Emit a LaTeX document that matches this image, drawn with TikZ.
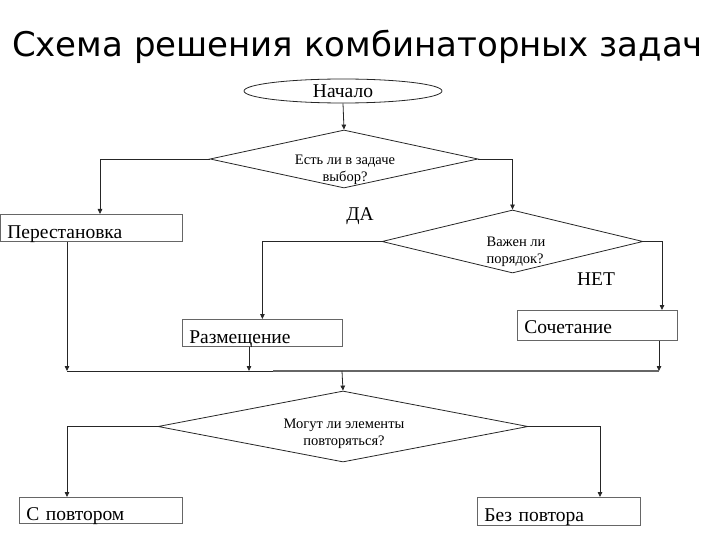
\documentclass[tikz,border=0pt]{standalone}
\usepackage{fontspec}
\setmainfont{Liberation Serif}
\newfontfamily\titlefont{DejaVu Sans}
\usetikzlibrary{arrows.meta,shapes.geometric,positioning,calc}

\tikzset{
  arr/.style={draw=black!85, line width=0.8pt, -{Triangle[length=5pt,width=4.5pt]}},
  link/.style={draw=black!85, line width=0.8pt},
  box/.style={draw=black!60, line width=0.8pt, rectangle, anchor=north west,
    minimum height=27pt, inner xsep=7pt, inner ysep=0pt, align=left,
    text height=22pt, text depth=1pt, font=\fontsize{19.5}{22}\selectfont},
  decision/.style={draw=black!85, line width=0.8pt, diamond, inner sep=0pt},
  qtext/.style={align=center, font=\fontsize{14.5}{17}\selectfont},
  answer/.style={font=\fontsize{19.5}{22}\selectfont}
}

\begin{document}
\begin{tikzpicture}[x=1pt, y=-1pt]
\useasboundingbox (0,0) rectangle (720,540);
% Title
\node[anchor=base, font=\titlefont\fontsize{34}{38}\selectfont] (title) at (357.5,57) {Схема решения комбинаторных задач};
% Start and questions
\node[draw=black!85, line width=0.8pt, ellipse, minimum width=198pt, minimum height=24pt, inner sep=0pt,
  font=\fontsize{19.5}{22}\selectfont] (start) at (343,91) {Начало};
\node[decision, minimum width=268pt, minimum height=58pt] (q1) at (344,159) {};
\node[qtext] (q1text) at (345,170) {Есть ли в задаче\\выбор?};
\node[decision, minimum width=261pt, minimum height=63pt] (q2) at (512.5,241.5) {};
\node[qtext, align=left] (q2text) at (516,252) {Важен ли\\порядок?};
\node[decision, minimum width=370pt, minimum height=71pt] (q3) at (343,426.5) {};
\node[qtext] (q3text) at (344,434) {Могут ли элементы\\повторяться?};
% Result boxes
\node[box, text width=168pt] (perm) at (0,214) {Перестановка};
\node[box, text width=146pt] (razm) at (182,319) {Размещение};
\node[box, text width=146pt, minimum height=30pt, text height=17pt] (soch) at (517,310) {Сочетание};
\node[box, text width=149pt, minimum height=26pt] (rep) at (19,497) {С повтором};
\node[box, text width=149pt, minimum height=28pt, text height=21pt] (norep) at (477,497) {Без повтора};
% Answers
\node[answer] (yes) at (360,216) {ДА};
\node[answer] (no) at (596,279) {НЕТ};
% Helper points
\coordinate (permIn) at (100,0);
\coordinate (sochIn) at (662,0);
\coordinate (norepIn) at (600,0);
\coordinate (joinL) at (67,371);
\coordinate (joinM) at (249,371);
\coordinate (joinK) at (273,371);
\coordinate (join) at (342,371);
\coordinate (joinR) at (659,371);
% Connectors
\draw[arr] (start.south) -- (q1.north);
\draw[arr] (q1.west) -| (permIn |- perm.north);
\draw[arr] (q1.east) -| (q2.north);
\draw[arr] (q2.west) -| (razm.north);
\draw[arr] (q2.east) -| (sochIn |- soch.north);
\draw[arr] (joinL |- perm.south) -- (joinL);
\draw[arr] (joinM |- razm.south) -- (joinM);
\draw[arr] (joinR |- soch.south) -- (joinR);
\draw[link] (joinL) -- (joinK);
\draw[draw=black!60, line width=1.5pt] (joinK) -- (joinR);
\draw[arr] (join) -- (q3.north);
\draw[arr] (q3.west) -| (rep.north -| joinL);
\draw[arr] (q3.east) -| (norepIn |- norep.north);
\end{tikzpicture}
\end{document}
